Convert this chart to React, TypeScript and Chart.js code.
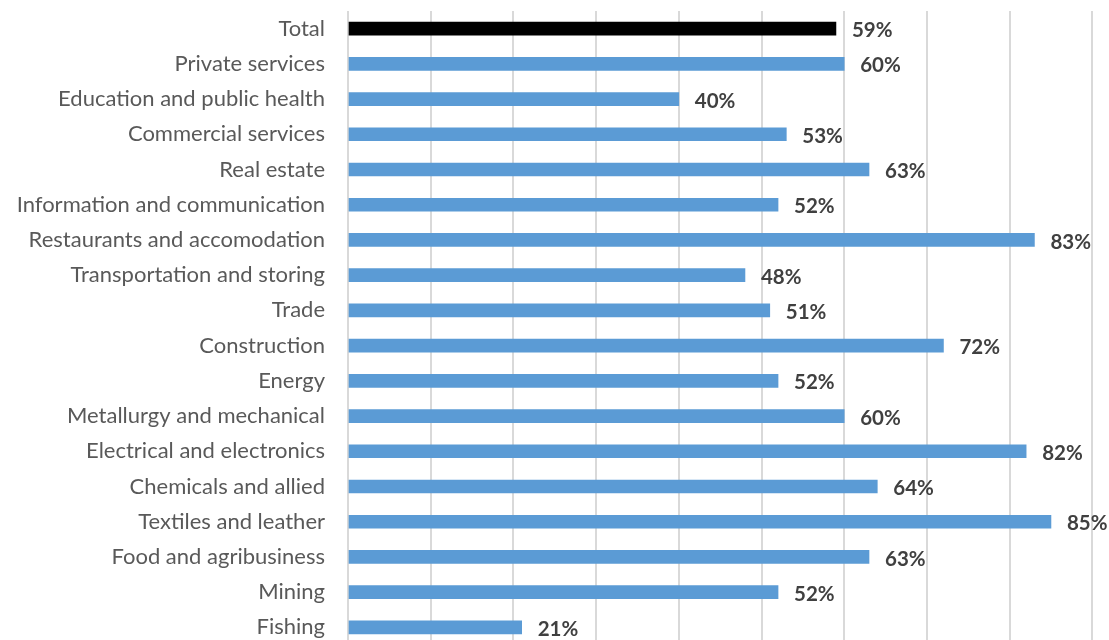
import React, { useEffect, useRef } from "react";
import { Chart, registerables } from "chart.js";

Chart.register(...registerables);

const categories = [
  "Total",
  "Private services",
  "Education and public health",
  "Commercial services",
  "Real estate",
  "Information and communication",
  "Restaurants and accomodation",
  "Transportation and storing",
  "Trade",
  "Construction",
  "Energy",
  "Metallurgy and mechanical",
  "Electrical and electronics",
  "Chemicals and allied",
  "Textiles and leather",
  "Food and agribusiness",
  "Mining",
  "Fishing",
];

const values = [59, 60, 40, 53, 63, 52, 83, 48, 51, 72, 52, 60, 82, 64, 85, 63, 52, 21];

const valueLabels = {
  id: "valueLabels",
  afterDatasetsDraw(chart: any) {
    const ctx = chart.ctx;
    const meta = chart.getDatasetMeta(0);
    ctx.save();
    ctx.font = "bold 20.5px Lato";
    ctx.fillStyle = "#404040";
    ctx.textAlign = "left";
    ctx.textBaseline = "middle";
    meta.data.forEach((bar: any, i: number) => {
      ctx.fillText(values[i] + "%", bar.x + 16, bar.y + 2);
    });
    ctx.restore();
  },
};

export default function App() {
  const canvasRef = useRef<HTMLCanvasElement | null>(null);

  useEffect(() => {
    if (!canvasRef.current) return;
    const chart = new Chart(canvasRef.current, {
      type: "bar",
      data: {
        labels: categories,
        datasets: [
          {
            data: values,
            backgroundColor: categories.map((c) => (c === "Total" ? "#000000" : "#5b9bd5")),
            barThickness: 13,
          },
        ],
      },
      options: {
        indexAxis: "y",
        animation: false,
        responsive: true,
        maintainAspectRatio: false,
        layout: { padding: { top: 11, right: 25, bottom: 15, left: 0 } },
        plugins: {
          legend: { display: false },
          tooltip: { enabled: false },
        },
        scales: {
          x: {
            min: 0,
            max: 100,
            ticks: { stepSize: 10, display: false },
            grid: { color: "#d9d9d9", lineWidth: 2, drawTicks: false },
            border: { display: false },
            afterFit(scale: any) {
              scale.height = 0;
              scale.paddingLeft = 0;
              scale.paddingRight = 0;
            },
          },
          y: {
            grid: { display: false, drawTicks: false },
            border: { display: false },
            ticks: {
              autoSkip: false,
              padding: 23,
              color: "#595959",
              font: { family: "Lato", size: 22 },
            },
            afterFit(scale: any) {
              scale.width = 348;
              scale.paddingTop = 0;
              scale.paddingBottom = 0;
            },
          },
        },
      },
      plugins: [valueLabels],
    });
    return () => chart.destroy();
  }, []);

  return (
    <div
      style={{
        position: "absolute",
        left: 0,
        top: 0,
        width: 1109,
        height: 640,
        overflow: "hidden",
        background: "#ffffff",
      }}
    >
      <div style={{ position: "relative", width: 1200, height: 660 }}>
        <canvas ref={canvasRef} />
      </div>
    </div>
  );
}
